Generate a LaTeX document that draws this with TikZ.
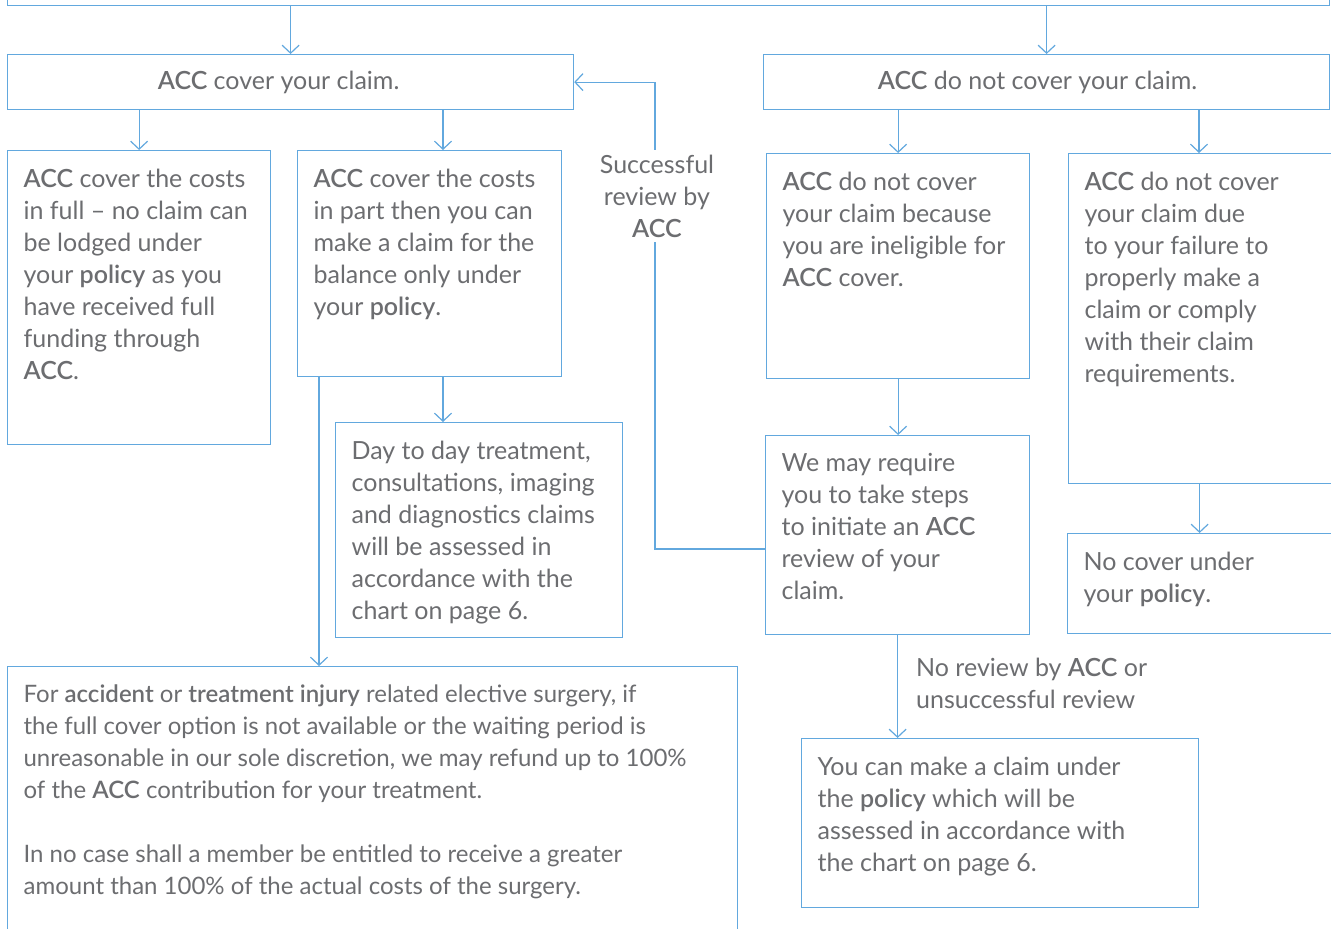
\documentclass[tikz,border=0pt]{standalone}
\usepackage{fontspec}
\setmainfont{Lato}[BoldFont=* Semibold]
\usetikzlibrary{arrows.meta}
\definecolor{accblue}{RGB}{98,168,222}
\definecolor{accgray}{RGB}{108,109,112}
\tikzset{
  flowbox/.style={draw=accblue, line width=1.2pt, anchor=north west, inner xsep=16pt, inner ysep=18pt, text=accgray},
  headbox/.style={draw=accblue, line width=1.2pt, anchor=north west, inner sep=0pt, minimum width=566pt, minimum height=55pt, text=accgray},
  flow/.style={draw=accblue, line width=1.2pt, -{Straight Barb[length=8pt, width=17pt]}},
  note/.style={text=accgray, inner sep=0pt}
}
\def\flowbox{\node[flowbox]}
\def\bx#1#2#3{\parbox[t][#2][t]{#1}{\raggedright #3}}

\begin{document}
\begin{tikzpicture}[x=1pt, y=-1pt, font=\fontsize{25}{32}\selectfont]
\useasboundingbox (0,0) rectangle (1331,929);
\node[draw=accblue, line width=1.2pt, anchor=south west, minimum width=1322pt, minimum height=60pt] (top) at (7,6) {};
\node[headbox] (cover) at (7,54) {\textbf{ACC} cover your claim.\hspace*{24pt}};
\node[headbox] (nocov) at (763,54) {\textbf{ACC} do not cover your claim.\hspace*{18pt}};
\flowbox (full) at (7,150) {\bx{231pt}{258pt}{\textbf{ACC} cover the costs\\ in full -- no claim can\\ be lodged under\\ your \textbf{policy} as you\\ have received full\\ funding through\\ \textbf{ACC}.}};
\flowbox (part) at (297,150) {\bx{232pt}{190pt}{\textbf{ACC} cover the costs\\ in part then you can\\ make a claim for the\\ balance only under\\ your \textbf{policy}.}};
\flowbox (daytoday) at (335,422) {\bx{255pt}{179pt}{Day to day treatment,\\ consultations, imaging\\ and diagnostics claims\\ will be assessed in\\ accordance with the\\ chart on page 6.}};
\flowbox (surgery) at (7,666) {\bx{698pt}{264pt}{\fontsize{24}{32}\selectfont For \textbf{accident} or \textbf{treatment injury} related elective surgery, if\\ the full cover option is not available or the waiting period is\\ unreasonable in our sole discretion, we may refund up to 100\%\\ of the \textbf{ACC} contribution for your treatment.\\[32pt] In no case shall a member be entitled to receive a greater\\ amount than 100\% of the actual costs of the surgery.}};
\flowbox (inelig) at (766,153) {\bx{231pt}{189pt}{\textbf{ACC} do not cover\\ your claim because\\ you are ineligible for\\ \textbf{ACC} cover.}};
\flowbox (fail) at (1068,153) {\bx{248pt}{294pt}{\textbf{ACC} do not cover\\ your claim due\\ to your failure to\\ properly make a\\ claim or comply\\ with their claim\\ requirements.}};
\flowbox (review) at (765,435) {\bx{232pt}{163pt}{We may require\\ you to take steps\\ to initiate an \textbf{ACC}\\ review of your\\ claim.}};
\flowbox (nocover) at (1067,533) {\bx{232pt}{64pt}{No cover under\\ your \textbf{policy}.}};
\flowbox (claim) at (801,738) {\bx{365pt}{133pt}{You can make a claim under\\ the \textbf{policy} which will be\\ assessed in accordance with\\ the chart on page 6.}};
\coordinate (partx) at (443,0);
\coordinate (surgx) at (319,0);
\coordinate (failx) at (1199,0);
\coordinate (backx) at (655,0);
\coordinate (backy) at (0,549);
\draw[flow] (top.south -| cover.north) -- (cover.north);
\draw[flow] (top.south -| nocov.north) -- (nocov.north);
\draw[flow] (cover.south -| full.north) -- (full.north);
\draw[flow] (cover.south -| partx) -- (part.north -| partx);
\draw[flow] (part.south -| partx) -- (daytoday.north -| partx);
\draw[flow] (part.south -| surgx) -- (surgery.north -| surgx);
\draw[flow] (nocov.south -| inelig.north) -- (inelig.north);
\draw[flow] (nocov.south -| failx) -- (fail.north -| failx);
\draw[flow] (inelig.south) -- (review.north -| inelig.south);
\draw[flow] (fail.south -| nocover.north) -- (nocover.north);
\draw[flow] (review.south) -- (claim.north -| review.south);
\draw[flow] (review.west |- backy) -- (backx |- backy) -- (backx |- cover.east) -- (cover.east);
\node[note, fill=white, align=center, inner ysep=5pt] (success) at (657,196) {Successful\\ review by\\ \textbf{ACC}};
\node[note, anchor=west, align=left] (noreview) at (916,683) {No review by \textbf{ACC} or\\ unsuccessful review};
\end{tikzpicture}
\end{document}
